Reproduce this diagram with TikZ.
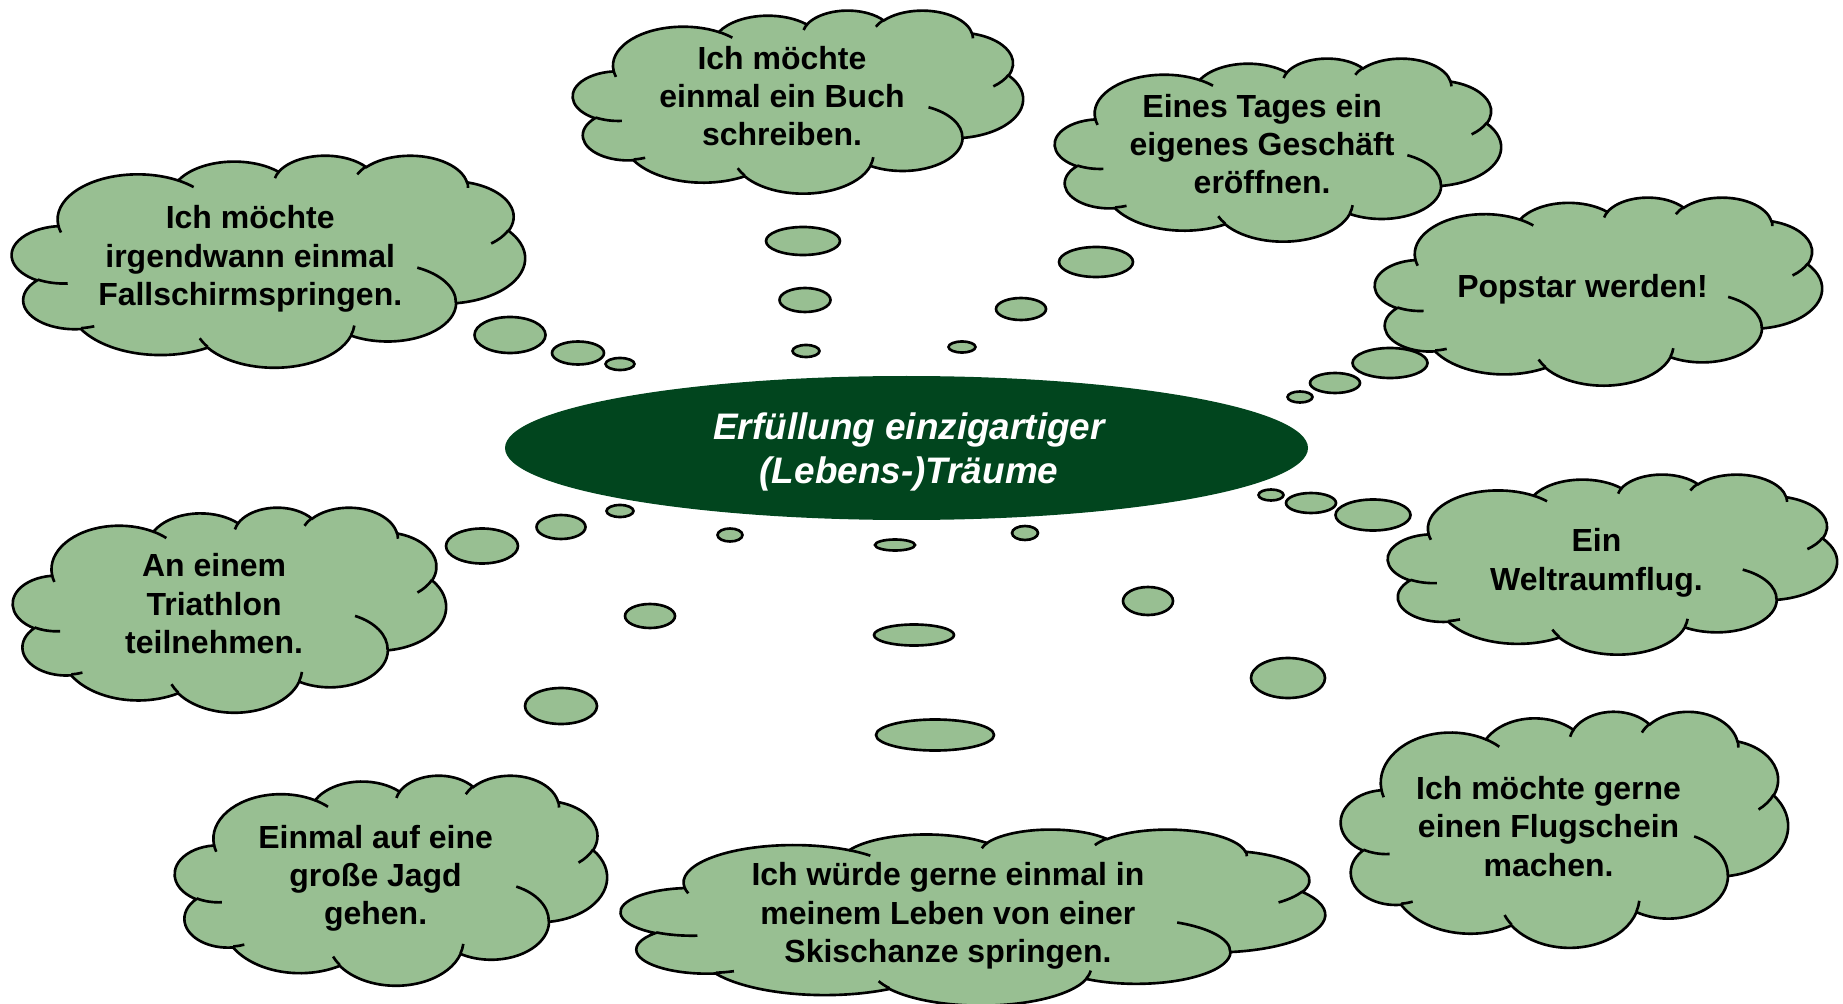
\documentclass[tikz,border=0pt]{standalone}
\usepackage{fontspec}
\setmainfont{Liberation Sans}
\usepackage{tikz}
\usetikzlibrary{shapes.geometric}

\definecolor{cloudgreen}{RGB}{152,191,146}
\definecolor{dreamgreen}{RGB}{1,69,30}

% cloud outline in a 100 x 100 box (y pointing down)
\gdef\cloudpath{(9.0278,33.2639)}
\gdef\cloudinner{}
\newcommand{\cloudangles}[4]{%
  \pgfmathsetmacro\arcdA{mod(atan2(#1*sin(#3),#2*cos(#3))-(#3)+540,360)-180}%
  \pgfmathsetmacro\arcdB{mod(atan2(#1*sin(#3+#4),#2*cos(#3+#4))-(#3+#4)+540,360)-180}%
  \pgfmathsetmacro\arcS{#3+\arcdA}%
  \pgfmathsetmacro\arcD{#4+\arcdB-\arcdA}%
  \pgfmathsetmacro\arcX{#1/4320}%
  \pgfmathsetmacro\arcY{#2/4320}}
\newcommand{\outerarc}[4]{%
  \cloudangles{#1}{#2}{#3}{#4}%
  \xdef\cloudpath{\cloudpath arc[x radius=\arcX mm, y radius=\arcY mm, start angle=\arcS, delta angle=\arcD]}}
\newcommand{\innerarc}[6]{%
  \cloudangles{#3}{#4}{#5}{#6}%
  \xdef\cloudinner{\cloudinner (#1,#2) arc[x radius=\arcX mm, y radius=\arcY mm, start angle=\arcS, delta angle=\arcD]}}

\outerarc{6753}{9190}{-190.4875}{123.7805}
\outerarc{5333}{7267}{-144.1024}{89.9452}
\outerarc{4365}{5945}{-145.8079}{99.7230}
\outerarc{4857}{6595}{-130.9861}{117.2417}
\outerarc{5333}{7273}{-78.7089}{109.0269}
\outerarc{6775}{9220}{-46.2673}{130.2690}
\outerarc{5785}{7867}{0.6250}{114.0333}
\outerarc{6752}{9215}{22.4516}{115.1726}
\outerarc{7720}{10543}{66.2426}{75.7110}
\outerarc{4360}{5918}{-274.9421}{146.7356}
\outerarc{4345}{5945}{-246.8285}{152.5189}
\xdef\cloudpath{\cloudpath -- cycle}

\innerarc{10.8634}{60.5949}{4345}{5945}{86.7420}{26.4295}
\innerarc{16.0370}{80.7847}{4360}{5918}{73.6105}{11.4475}
\innerarc{38.1435}{90.4861}{6752}{9215}{137.6242}{14.0811}
\innerarc{66.7292}{80.4421}{6752}{9215}{6.4533}{15.9984}
\innerarc{79.0023}{53.1343}{5785}{7867}{-70.2924}{70.9174}
\innerarc{96.7546}{35.5417}{5333}{7273}{30.3180}{27.7515}
\innerarc{88.7130}{12.5602}{4857}{6595}{-13.7443}{14.8589}
\innerarc{67.3102}{9.1481}{4857}{6595}{-149.1815}{18.1954}
\innerarc{51.2523}{10.9259}{4365}{5945}{-163.4943}{17.6864}
\innerarc{32.4074}{12.0185}{6753}{9190}{-66.7070}{12.3194}
\innerarc{9.5532}{36.5486}{6753}{9190}{157.6544}{11.8582}

% [text shift], name, left, top, width, height, text
\newcommand{\dreamcloud}[7][3]{%
  \begin{scope}[shift={(#3,#4)}, xscale=#5/100, yscale=#6/100]
    \path[cloudbody] \cloudpath;
    \path[cloudfold] \cloudinner;
  \end{scope}
  \node[cloudtext] (#2) at ({#3+0.4644*#5},{#4+0.4768*#6+#1}) {#7};}

\begin{document}
\begin{tikzpicture}[x=0.1mm, y=0.1mm, yscale=-1,
    cloudbody/.style={fill=cloudgreen, draw=black, line width=0.75pt},
    cloudfold/.style={draw=black, line width=0.75pt},
    bubble/.style={fill=cloudgreen, draw=black, line width=0.75pt},
    cloudtext/.style={font=\bfseries\fontsize{9.1pt}{10.9pt}\selectfont, align=center, inner sep=0pt},
    dreamcore/.style={ellipse, fill=dreamgreen, inner sep=0pt,
      minimum width=80.3mm, minimum height=14.4mm},
    dreamtext/.style={text=white, align=center, inner sep=0pt,
      font=\bfseries\itshape\fontsize{10.5pt}{12.4pt}\selectfont}]
  \useasboundingbox (0,0) rectangle (1843,1004);

  % the dreams
  \dreamcloud[-1]{buch}{573}{10}{450}{183}{Ich möchte\\einmal ein Buch\\schreiben.}
  \dreamcloud[-1]{geschaeft}{1055}{58}{446}{183}{Eines Tages ein\\eigenes Geschäft\\eröffnen.}
  \dreamcloud{popstar}{1375}{197}{447}{188}{Popstar werden!}
  \dreamcloud{fallschirm}{12}{155}{513}{212}{Ich möchte\\irgendwann einmal\\Fallschirmspringen.}
  \dreamcloud[-1]{triathlon}{13}{507}{433}{205}{An einem\\Triathlon\\teilnehmen.}
  \dreamcloud{weltraum}{1388}{474}{449}{180}{Ein\\Weltraumflug.}
  \dreamcloud{jagd}{175}{775}{432}{210}{Einmal auf eine\\große Jagd\\gehen.}
  \dreamcloud{skischanze}{621}{829}{704}{176}{Ich würde gerne einmal in\\meinem Leben von einer\\Skischanze springen.}
  \dreamcloud{flugschein}{1341}{711}{447}{236}{Ich möchte gerne\\einen Flugschein\\machen.}

  % thought bubbles
  \foreach \bx/\by/\rx/\ry in {803/241/3.7/1.4, 805/300/2.55/1.2, 806/351/1.35/0.6,
      1096/262/3.7/1.5, 1021/309/2.5/1.1, 962/347/1.35/0.55,
      1390/363/3.75/1.5, 1335/383/2.5/1.0, 1300/397/1.25/0.55,
      510/335/3.55/1.8, 578/353/2.6/1.15, 620/364/1.45/0.6,
      482/546/3.6/1.75, 561/527/2.45/1.2, 620/511/1.35/0.6,
      730/535/1.25/0.65, 650/616/2.5/1.2, 561/706/3.6/1.8,
      895/545/2.0/0.55, 914/635/4.0/1.05, 935/735/5.9/1.55,
      1025/533/1.3/0.7, 1148/601/2.5/1.4, 1288/678/3.7/2.0,
      1271/495/1.25/0.55, 1311/503/2.5/1.0, 1373/515/3.75/1.55}
    \draw[bubble] (\bx,\by) ellipse [x radius=\rx mm, y radius=\ry mm];

  % centre
  \node[dreamcore] (dream) at (906.5,448) {};
  \node[dreamtext] (dreamlabel) at (909,452) {Erfüllung einzigartiger\\(Lebens-)Träume};
\end{tikzpicture}
\end{document}
